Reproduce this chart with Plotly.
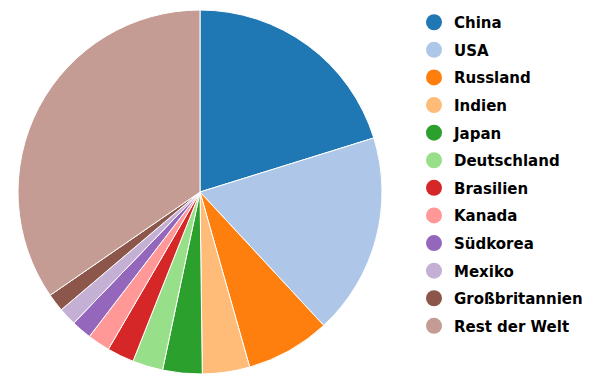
import plotly.graph_objects as go

W, H = 589, 374

laender = ["China", "USA", "Russland", "Indien", "Japan", "Deutschland",
           "Brasilien", "Kanada", "Südkorea", "Mexiko", "Großbritannien",
           "Rest der Welt"]
anteile = [20.2, 17.9, 7.5, 4.2, 3.5, 2.7, 2.4, 2.0, 1.8, 1.6, 1.6, 34.6]
farben = ["#1f77b4", "#aec7e8", "#ff7f0e", "#ffbb78", "#2ca02c", "#98df8a",
          "#d62728", "#ff9896", "#9467bd", "#c5b0d5", "#8c564b", "#c49c94"]

fig = go.Figure()

fig.add_trace(go.Pie(
    labels=laender,
    values=anteile,
    sort=False,
    direction="clockwise",
    rotation=0,
    textinfo="none",
    hoverinfo="label+percent",
    marker=dict(colors=farben, line=dict(color="white", width=1)),
    showlegend=False,
    domain=dict(x=[18 / W, 382 / W], y=[0, 364 / H]),
))

# circular legend symbols via empty scatter traces
for i, (name, col) in enumerate(zip(laender, farben)):
    fig.add_trace(go.Scatter(
        x=[None], y=[None], mode="markers", name=name,
        legendgroup=f"g{i}",
        marker=dict(symbol="circle", size=16, color=col),
    ))

fig.update_layout(
    width=W, height=H,
    margin=dict(l=0, r=0, t=0, b=0),
    paper_bgcolor="white",
    plot_bgcolor="white",
    xaxis=dict(visible=False),
    yaxis=dict(visible=False),
    legend=dict(
        x=414 / W, y=1 - 6 / H, xanchor="left", yanchor="top",
        font=dict(family="DejaVu Sans", size=15, color="black", weight="bold"),
        tracegroupgap=5.1,
        itemsizing="trace",
        bgcolor="rgba(0,0,0,0)",
    ),
)

fig.write_html("out.html")
